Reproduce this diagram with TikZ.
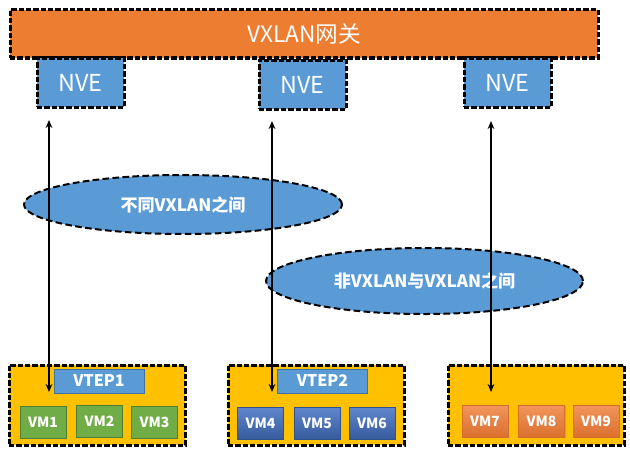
\documentclass[tikz,border=0pt]{standalone}
\usepackage{fontspec}
\setmainfont{Noto Sans CJK SC}
\usetikzlibrary{arrows.meta,shapes.geometric,shadows}

\definecolor{gworange}{HTML}{ED7D31}
\definecolor{nveblue}{HTML}{5B9BD5}
\definecolor{nveborder}{HTML}{41719C}
\definecolor{hostyellow}{HTML}{FFC000}
\definecolor{vmgreen}{HTML}{70AD47}
\definecolor{vmgreenline}{HTML}{507E32}
\definecolor{vmblue}{HTML}{4472C4}
\definecolor{vmblueline}{HTML}{2F528F}
\definecolor{vmorange}{HTML}{EE7A33}

\tikzset{every picture/.style={line width=0.75pt}}
\tikzset{
  gapdash/.style={draw=black, line width=2.25pt, dash pattern={on 4pt off 1.5pt},
    preaction={draw=white, line width=2.25pt}},
  gwbox/.style={gapdash, fill=gworange, text=white, inner sep=0pt,
    minimum width=441pt, minimum height=36pt, font=\fontsize{17}{20}\selectfont},
  nvebox/.style={gapdash, fill=nveblue, text=white, inner sep=0pt,
    minimum width=65.25pt, minimum height=36.75pt, font=\fontsize{17.5}{20}\selectfont},
  hostbox/.style={gapdash, fill=hostyellow, inner sep=0pt,
    minimum width=132pt, minimum height=60pt},
  vtepbox/.style={draw=nveborder, fill=nveblue, text=white, inner sep=0pt,
    minimum width=67.5pt, minimum height=18pt, font=\bfseries\fontsize{12}{14}\selectfont},
  vmbox/.style={inner sep=0pt, minimum width=34.5pt, minimum height=24pt, text=white,
    font=\bfseries\fontsize{10.5}{12}\selectfont},
  vmg/.style={vmbox, draw=vmgreenline, fill=vmgreen},
  vmb/.style={vmbox, draw=vmblueline, top color=vmblue!85!white, bottom color=vmblue!80!black},
  vmo/.style={vmbox, draw=vmorange!90!black, top color=vmorange!80!white, bottom color=vmorange!92!black,
    drop shadow={opacity=0.35, shadow xshift=0.8pt, shadow yshift=-0.8pt}},
  zone/.style={ellipse, draw=black, line width=1.5pt, dash pattern={on 5pt off 2.5pt},
    fill=nveblue, text=white, inner sep=0pt, font=\bfseries\fontsize{12.8}{15}\selectfont},
  link/.style={line width=1.2pt, {Stealth[length=6pt,width=5pt]}-{Stealth[length=6pt,width=5pt]}}
}

\begin{document}
\begin{tikzpicture}[x=0.75pt,y=0.75pt,yscale=-1,xscale=1]
\useasboundingbox (0,0) rectangle (630,460);

%Shape: Rectangle [gateway]
\draw (304,34) node [gwbox] (gw) {VXLAN网关};
%Shape: Rectangle [nve]
\draw (80.5,82.5) node [nvebox] (nve1) {NVE};
\draw (302.5,84.5) node [nvebox] (nve2) {NVE};
\draw (507.5,82.5) node [nvebox] (nve3) {NVE};

%Shape: Rectangle [hosts]
\draw (97,405) node [hostbox] (host1) {};
\draw (316,405) node [hostbox] (host2) {};
\draw (536,405) node [hostbox] (host3) {};

% Text Node
\draw (99,381) node [vtepbox] (vtep1) {VTEP1};
% Text Node
\draw (322.5,381) node [vtepbox] (vtep2) {VTEP2};

% Text Node
\draw (43,422) node [vmg] (vm1) {VM1};
\draw (99.5,421) node [vmg] (vm2) {VM2};
\draw (154.5,422) node [vmg] (vm3) {VM3};
% Text Node
\draw (260.5,423) node [vmb] (vm4) {VM4};
\draw (317,423) node [vmb] (vm5) {VM5};
\draw (372,423) node [vmb] (vm6) {VM6};
% Text Node
\draw (485,421) node [vmo] (vm7) {VM7};
\draw (541.5,421) node [vmo] (vm8) {VM8};
\draw (596,421) node [vmo] (vm9) {VM9};

%Shape: Ellipse
\draw (183,204.5) node [zone, minimum width=238.5pt, minimum height=44.25pt] (inter) {不同VXLAN之间};
%Shape: Ellipse
\draw (424.5,281) node [zone, minimum width=237.75pt, minimum height=49.5pt] (mixed) {非VXLAN与VXLAN之间};

%Straight Lines
\coordinate (up1) at (49,120);
\coordinate (dn1) at (49,392);
\coordinate (up2) at (272,121);
\coordinate (dn2) at (272,392);
\coordinate (up3) at (491,121);
\coordinate (dn3) at (491,392);
\draw [link] (up1) -- (dn1);
\draw [link] (up2) -- (dn2);
\draw [link] (up3) -- (dn3);

\end{tikzpicture}
\end{document}
